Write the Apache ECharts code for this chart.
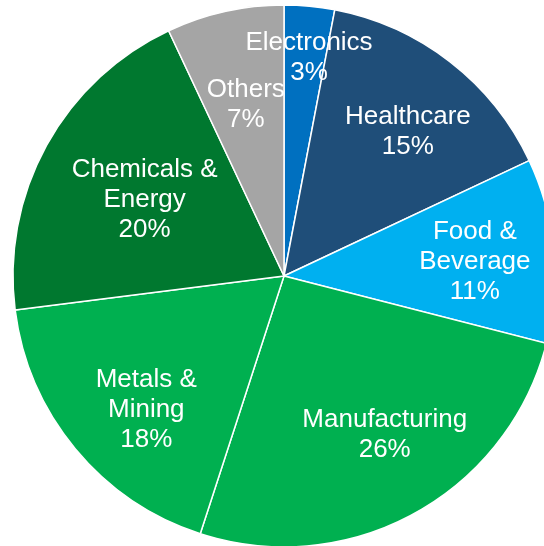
<!DOCTYPE html>
<html>
<head>
<meta charset="utf-8">
<script src="https://cdn.jsdelivr.net/npm/echarts@6/dist/echarts.min.js"></script>
<style>
html,body{margin:0;padding:0;background:#fff;}
#chart{width:544px;height:546px;}
</style>
</head>
<body>
<div id="chart"></div>
<script>
var categories = ['Electronics', 'Healthcare', 'Food & Beverage', 'Manufacturing', 'Metals & Mining', 'Chemicals & Energy', 'Others'];
var labelText = ['Electronics', 'Healthcare', 'Food &\nBeverage', 'Manufacturing', 'Metals &\nMining', 'Chemicals &\nEnergy', 'Others'];
var values = [3, 15, 11, 26, 18, 20, 7];

var colors = ['#0070C0', '#1F4E79', '#00B0F0', '#00B050', '#00B050', '#00782F', '#A5A5A5'];
var labelShift = [[12, -80], [39, -35], [53, -1], [34, 37], [-31, 46], [-18, -9], [-8, -36]];

var chart = echarts.init(document.getElementById('chart'), null, {renderer: 'canvas'});
chart.setOption({
  animation: false,
  backgroundColor: '#fff',
  series: [{
    type: 'pie',
    center: [284, 276],
    radius: 271,
    startAngle: 90,
    clockwise: true,
    avoidLabelOverlap: false,
    data: categories.map(function (c, i) {
      return {name: c, value: values[i], itemStyle: {color: colors[i]}};
    }),
    itemStyle: {borderColor: '#ffffff', borderWidth: 1.5},
    label: {
      show: true,
      position: 'inside',
      color: '#ffffff',
      fontFamily: 'Liberation Sans, Arial, sans-serif',
      fontSize: 26,
      lineHeight: 30,
      align: 'center',
      formatter: function (p) { return labelText[p.dataIndex] + '\n' + p.value + '%'; }
    },
    labelLine: {show: false},
    labelLayout: function (p) {
      var s = labelShift[p.dataIndex];
      return {dx: s[0], dy: s[1]};
    },
    emphasis: {disabled: true}
  }]
});
</script>
</body>
</html>
